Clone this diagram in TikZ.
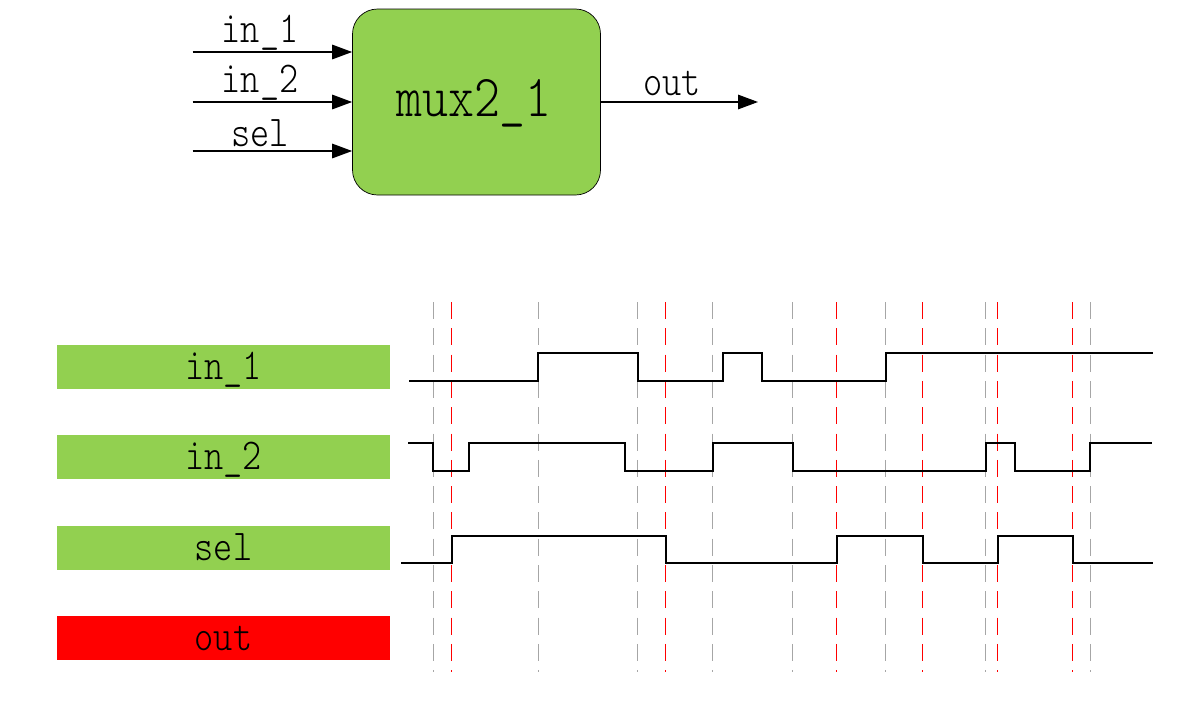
\documentclass[tikz,border=0pt]{standalone}
\usepackage{fontspec}
\usepackage{xcolor}
\usepackage{tikz}
\usetikzlibrary{arrows.meta}
\newfontfamily\muxfont[FakeStretch=0.83]{Latin Modern Mono Light}
\definecolor{muxgreen}{HTML}{92D050}
\definecolor{guidegray}{HTML}{A6A6A6}
\tikzstyle{muxbox} = [rectangle, rounded corners=25pt, minimum width=248pt, minimum height=186pt, inner sep=0pt, draw=black, line width=0.7pt, fill=muxgreen]
\tikzstyle{muxtext} = [inner sep=0pt, font=\fontsize{59.5}{60}\muxfont]
\tikzstyle{portlabel} = [inner sep=0pt, font=\fontsize{44}{44}\muxfont]
\tikzstyle{sigbar} = [rectangle, minimum width=333pt, minimum height=44pt, inner sep=0pt, fill=muxgreen]
\tikzstyle{arrow} = [line width=1.4pt,-{Triangle[length=20pt,width=14.5pt]}]
\tikzstyle{guide} = [line width=1pt, dash pattern=on 17pt off 9.3pt]
\tikzstyle{wave} = [line width=2pt, line join=miter]

\begin{document}
\begin{tikzpicture}[x=1pt,y=-1pt]
	\useasboundingbox (0,0) rectangle (1190,707);
	
	\node (mux) [muxbox] at (476.5,102) {};
	\node (muxname) [muxtext] at (474,103) {mux2\_1};
	
	\coordinate (a1) at (192.5,52);
	\coordinate (a2) at (192.5,102);
	\coordinate (a3) at (192.5,151);
	\coordinate (q) at (758,102);
	
	\draw [arrow] (a1) -- (a1 -| mux.west);
	\draw [arrow] (a2) -- (a2 -| mux.west);
	\draw [arrow] (a3) -- (a3 -| mux.west);
	\draw [arrow] (q -| mux.east) -- (q);
	
	\node (l1) [portlabel] at (260,33) {in\_1};
	\node (l2) [portlabel] at (260,83) {in\_2};
	\node (l3) [portlabel] at (260,133) {sel};
	\node (l4) [portlabel] at (672,83) {out};
	
	\node (s1) [sigbar] at (223.5,367) {};
	\node (s2) [sigbar] at (223.5,457) {};
	\node (s3) [sigbar] at (223.5,547.5) {};
	\node (s4) [sigbar, fill=red] at (223.5,638) {};
	\node (t1) [portlabel] at (223.5,370) {in\_1};
	\node (t2) [portlabel] at (223.5,460) {in\_2};
	\node (t3) [portlabel] at (223.5,547.5) {sel};
	\node (t4) [portlabel] at (223.5,638) {out};
	
	\foreach \x in {433.3,538.3,637.5,712.5,792.5,885.5,985.3,1090.3}
		\draw [guide, guidegray] (\x,302) -- (\x,672);
	\foreach \x in {451.3,665.3,836.5,922.5,997.5,1072.5}
		\draw [guide, red] (\x,302) -- (\x,672);
	
	\draw [wave] (409,381) -- (538.3,381) -- (538.3,353) -- (637.7,353) -- (637.7,381) -- (723.3,381) -- (723.3,353) -- (761.5,353) -- (761.5,381) -- (886.3,381) -- (886.3,353) -- (1153,353);
	\draw [wave] (408,443) -- (433.3,443) -- (433.3,471) -- (469.3,471) -- (469.3,443) -- (625.3,443) -- (625.3,471) -- (712.5,471) -- (712.5,443) -- (792.5,443) -- (792.5,471) -- (985.5,471) -- (985.5,443) -- (1015.3,443) -- (1015.3,471) -- (1090.3,471) -- (1090.3,443) -- (1152,443);
	\draw [wave] (401,563) -- (451.5,563) -- (451.5,536) -- (665.5,536) -- (665.5,563) -- (836.5,563) -- (836.5,536) -- (923.3,536) -- (923.3,563) -- (997.5,563) -- (997.5,536) -- (1072.5,536) -- (1072.5,563) -- (1153,563);
	
\end{tikzpicture}
\end{document}
